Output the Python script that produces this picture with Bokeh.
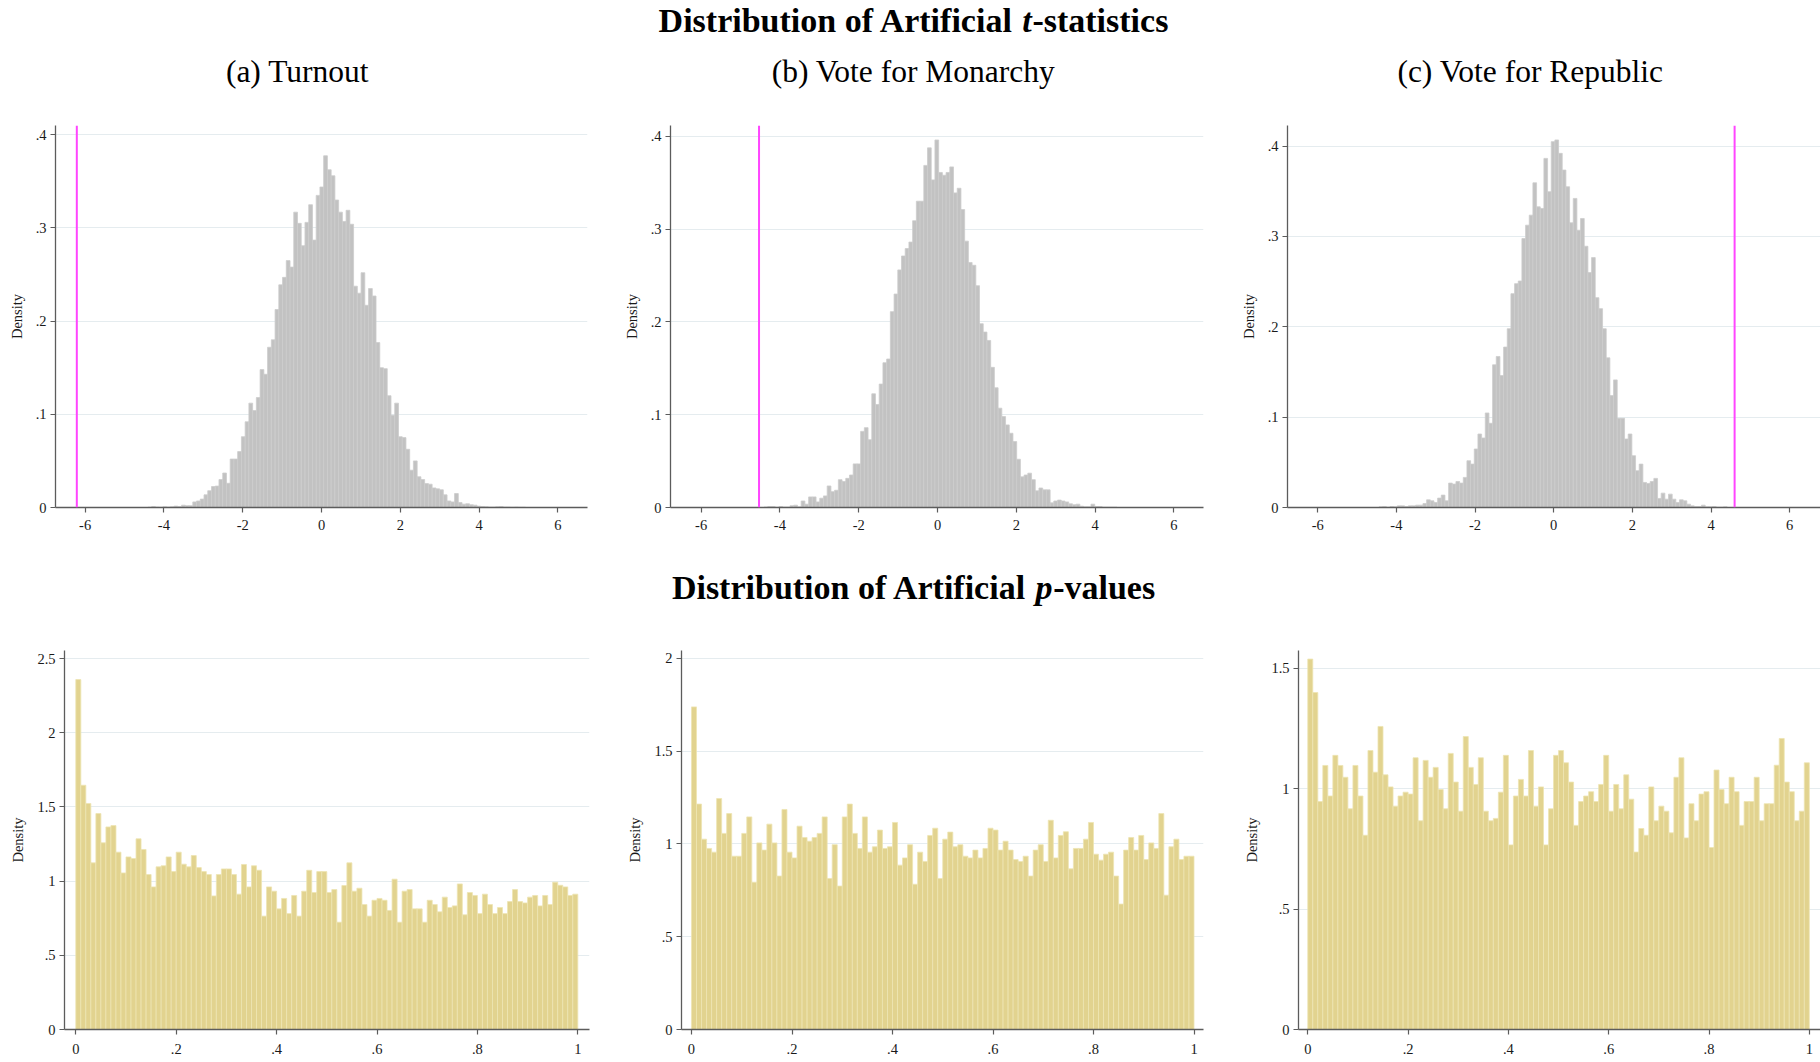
from bokeh.plotting import figure
from bokeh.models import Range1d, FixedTicker, CustomJSTickFormatter, Span, Label, ColumnDataSource
from bokeh.layouts import column, row
from bokeh.embed import file_html
from bokeh.resources import INLINE

FONT = "Liberation Serif"

# ---------------- data: artificial t-statistics (density per bin) ----------------
turnout_t_first_edge = -4.405
turnout_t_bin_width = 0.0949
turnout_t_density = [
    0.0004, 0.001, 0.0005, 0.0003, 0.0008, 0.0005, 0.0008, 0.0015, 0.001, 0.0025, 0.002, 0.002,
    0.006, 0.007, 0.009, 0.0136, 0.018, 0.0225, 0.023, 0.030, 0.037, 0.026,
    0.052, 0.052, 0.060, 0.076, 0.092, 0.112, 0.104, 0.118, 0.148, 0.143,
    0.172, 0.180, 0.2125, 0.239, 0.247, 0.265, 0.258, 0.317, 0.305, 0.281,
    0.306, 0.325, 0.287, 0.335, 0.344, 0.3775, 0.3625, 0.356, 0.330, 0.317,
    0.307, 0.319, 0.304, 0.2375, 0.230, 0.252, 0.217, 0.235, 0.227, 0.177,
    0.150, 0.149, 0.120, 0.099, 0.112, 0.076, 0.075, 0.0625, 0.040, 0.050,
    0.033, 0.030, 0.0257, 0.025, 0.021, 0.020, 0.019, 0.0136, 0.007, 0.006,
    0.015, 0.0054, 0.0036, 0.004, 0.003, 0.0025, 0.0014,
    0.001, 0.0008, 0.0005, 0.0005, 0.0008, 0.001, 0.0005, 0.0005, 0.0003, 0.0005, 0.0003, 0.0003,
]
turnout_t_actual = -6.21

monarchy_t_first_edge = -4.403
monarchy_t_bin_width = 0.0943
monarchy_t_density = [
    0.0005, 0.001, 0.001, 0.0003, 0.001, 0.0005, 0.0005, 0.002, 0.0025, 0.0007,
    0.007, 0.0036, 0.0114, 0.0114, 0.006, 0.010, 0.0125, 0.0232, 0.0171, 0.0186,
    0.030, 0.028, 0.0314, 0.035, 0.047, 0.047, 0.082, 0.086, 0.073, 0.1225,
    0.111, 0.133, 0.156, 0.160, 0.211, 0.230, 0.256, 0.271, 0.279, 0.286,
    0.309, 0.330, 0.330, 0.3686, 0.3875, 0.353, 0.396,
    0.361, 0.358, 0.361, 0.367, 0.339, 0.344, 0.321, 0.287, 0.264, 0.261,
    0.239, 0.198, 0.189, 0.180, 0.151, 0.129, 0.107, 0.098, 0.089, 0.080,
    0.071, 0.052, 0.033, 0.035, 0.037, 0.030, 0.018, 0.021, 0.019, 0.019,
    0.005, 0.007, 0.008, 0.007, 0.006, 0.004, 0.003, 0.0036,
    0.0014, 0.0007, 0.0007, 0.0036, 0.001, 0.001, 0.0004, 0.0004, 0.0004, 0.0004,
]
monarchy_t_actual = -4.53

republic_t_first_edge = -4.443
republic_t_bin_width = 0.0932
republic_t_density = [
    0.0007, 0.0011, 0.0004, 0.0011, 0.0007, 0.0018, 0.0018, 0.0011, 0.0018, 0.0018, 0.0026, 0.0026,
    0.0044, 0.0085, 0.0074, 0.0055, 0.0104, 0.0137, 0.0074, 0.027, 0.0259, 0.0288,
    0.027, 0.0333, 0.0518, 0.048, 0.0647, 0.0813, 0.0769, 0.1046, 0.0932, 0.1579,
    0.1671, 0.146, 0.1775, 0.1978, 0.2366, 0.2477, 0.2506, 0.2976, 0.3124, 0.3235,
    0.3593, 0.3327, 0.3309, 0.3863, 0.3494, 0.4048, 0.4067, 0.3919, 0.3734, 0.3549,
    0.315, 0.342, 0.3068, 0.3198, 0.2891, 0.2599, 0.2765, 0.2322, 0.22, 0.1978,
    0.1656, 0.1238, 0.1412, 0.0987, 0.0987, 0.0758, 0.0813, 0.0573, 0.0407, 0.048,
    0.0277, 0.0266, 0.0288, 0.0322, 0.01, 0.0159, 0.0092, 0.0148, 0.0092, 0.0055,
    0.0085, 0.0074, 0.0037, 0.0018,
    0.0011, 0.0011, 0.0026, 0.0007, 0.0007, 0.0011, 0.0004, 0.0004, 0.0007,
]
republic_t_actual = 4.60

# ---------------- data: artificial p-values (100 bins of width 0.01) ----------------
p_bin_width = 0.01
turnout_p_density = [
    2.358, 1.646, 1.523, 1.123, 1.455, 1.258, 1.365, 1.374, 1.195, 1.055,
    1.163, 1.152, 1.285, 1.213, 1.044, 0.961, 1.096, 1.103, 1.163, 1.064,
    1.195, 1.114, 1.096, 1.172, 1.091, 1.064, 1.044, 0.900, 1.044, 1.082,
    1.082, 1.044, 0.912, 1.112, 0.961, 1.103, 1.073, 0.764, 0.961, 0.932,
    0.813, 0.883, 0.781, 0.903, 0.764, 0.932, 1.073, 0.923, 1.064, 1.064,
    0.923, 0.943, 0.723, 0.970, 1.123, 0.932, 0.952, 0.842, 0.764, 0.871,
    0.883, 0.871, 0.802, 1.013, 0.723, 0.932, 0.943, 0.813, 0.813, 0.723,
    0.871, 0.842, 0.793, 0.892, 0.822, 0.833, 0.981, 0.773, 0.923, 0.903,
    0.781, 0.912, 0.842, 0.781, 0.822, 0.781, 0.862, 0.943, 0.862, 0.853,
    0.892, 0.903, 0.833, 0.903, 0.842, 0.993, 0.972, 0.961, 0.903, 0.912,
]
monarchy_p_density = [
    1.739, 1.215, 1.026, 0.976, 0.956, 1.245, 1.057, 1.164, 0.934, 0.934,
    1.057, 1.146, 0.794, 1.006, 0.967, 1.107, 1.006, 0.827, 1.186, 0.956,
    0.925, 1.096, 1.035, 1.015, 1.035, 1.057, 1.146, 0.814, 0.996, 0.773,
    1.146, 1.215, 1.057, 0.976, 1.146, 0.956, 0.985, 1.075, 0.976, 0.985,
    1.116, 0.886, 0.925, 0.996, 0.783, 0.956, 0.906, 1.046, 1.085, 0.814,
    1.026, 1.064, 0.985, 0.996, 0.934, 0.925, 0.967, 0.925, 0.976, 1.085,
    1.075, 0.967, 1.015, 0.967, 0.916, 0.906, 0.934, 0.827, 0.967, 0.996,
    0.906, 1.128, 0.925, 1.046, 1.066, 0.866, 0.976, 0.976, 1.026, 1.116,
    0.945, 0.913, 0.945, 0.956, 0.827, 0.676, 0.967, 1.035, 0.967, 1.046,
    0.916, 1.006, 0.976, 1.164, 0.724, 0.985, 1.026, 0.916, 0.934, 0.934,
]
republic_p_density = [
    1.539, 1.400, 0.947, 1.097, 0.970, 1.139, 1.097, 1.048, 0.917, 1.097,
    0.970, 0.807, 1.159, 1.069, 1.259, 1.058, 1.008, 0.928, 0.970, 0.986,
    0.978, 1.129, 0.867, 1.118, 1.048, 1.089, 0.997, 0.917, 1.147, 1.028,
    0.907, 1.217, 1.089, 1.018, 1.129, 0.907, 0.867, 0.877, 0.986, 1.139,
    0.767, 0.970, 1.039, 0.970, 1.159, 0.928, 1.008, 0.767, 0.917, 1.139,
    1.159, 1.108, 1.028, 0.848, 0.947, 0.970, 0.988, 0.947, 1.018, 1.139,
    0.907, 1.018, 0.917, 1.058, 0.957, 0.737, 0.835, 0.807, 1.008, 0.867,
    0.928, 0.907, 0.817, 1.048, 1.129, 0.796, 0.938, 0.867, 0.978, 0.988,
    0.756, 1.078, 0.997, 0.938, 1.048, 0.988, 0.848, 0.947, 0.947, 1.048,
    0.867, 0.938, 0.938, 1.098, 1.209, 1.028, 0.988, 0.867, 0.907, 1.108,
]

# ---------------- text ----------------
title_t = ("Distribution of Artificial", "t", "-statistics")
title_p = ("Distribution of Artificial", "p", "-values")
subtitles = ["(a) Turnout", "(b) Vote for Monarchy", "(c) Vote for Republic"]
y_label = "Density"
t_xticks = [-6, -4, -2, 0, 2, 4, 6]
t_yticks = [0, 0.1, 0.2, 0.3, 0.4]
p_xticks = [0, 0.2, 0.4, 0.6, 0.8, 1]
p_yticks = [[0, 0.5, 1, 1.5, 2, 2.5], [0, 0.5, 1, 1.5, 2], [0, 0.5, 1, 1.5]]

# ---------------- styling ----------------
GRAY_FILL = "#c2c2c2"
GRAY_LINE = "#cdcdcd"
GOLD_FILL = "#e2d38f"
GOLD_LINE = "#eee4b3"
MAGENTA = "#ff45ff"
GRID = "#e5ecef"
AXIS = "#5c5c5c"
TXT = "#1a1a1a"

fmt_code = """
let v = Math.round(tick * 100) / 100;
let s = String(v);
if (s.startsWith("0.")) s = s.slice(1);
if (s.startsWith("-0.")) s = "-" + s.slice(2);
return s;
"""


def hist_fig(width, height, borders, xr, yr, xticks, yticks, xstand):
    l, r, t, b = borders
    p = figure(width=width, height=height, x_range=Range1d(*xr), y_range=Range1d(*yr),
               output_backend="svg", toolbar_location=None,
               min_border_left=l, min_border_right=r, min_border_top=t, min_border_bottom=b)
    p.outline_line_color = None
    p.background_fill_color = "white"
    p.border_fill_color = "white"
    p.xgrid.visible = False
    p.ygrid.grid_line_color = GRID
    p.ygrid.grid_line_width = 1
    p.xaxis.ticker = FixedTicker(ticks=xticks, minor_ticks=[])
    p.yaxis.ticker = FixedTicker(ticks=yticks, minor_ticks=[])
    for ax in (p.xaxis[0], p.yaxis[0]):
        ax.formatter = CustomJSTickFormatter(code=fmt_code)
        ax.axis_line_color = AXIS
        ax.axis_line_width = 1.3
        ax.major_tick_line_color = AXIS
        ax.major_tick_line_width = 1.2
        ax.major_tick_out = 5
        ax.major_tick_in = 0
        ax.minor_tick_out = 0
        ax.minor_tick_in = 0
        ax.major_label_text_font = FONT
        ax.major_label_text_font_size = "14.5px"
        ax.major_label_text_color = TXT
    p.xaxis.major_label_standoff = xstand
    p.yaxis.major_label_standoff = 4
    p.yaxis.major_label_orientation = "horizontal"
    p.yaxis.axis_label = y_label
    p.yaxis.axis_label_text_font = FONT
    p.yaxis.axis_label_text_font_size = "14.5px"
    p.yaxis.axis_label_text_font_style = "normal"
    p.yaxis.axis_label_text_color = TXT
    p.yaxis.axis_label_standoff = 8
    return p


def add_bars(p, first_edge, width, dens, fill, line):
    lefts = [first_edge + i * width for i in range(len(dens))]
    rights = [x + width for x in lefts]
    src = ColumnDataSource(dict(left=lefts, right=rights, top=dens))
    p.quad(left="left", right="right", top="top", bottom=0, source=src,
           fill_color=fill, line_color=line, line_width=0.8)


def text_fig(width, height):
    p = figure(width=width, height=height, x_range=Range1d(0, width), y_range=Range1d(height, 0),
               output_backend="svg", toolbar_location=None, x_axis_type=None, y_axis_type=None,
               min_border=0)
    p.grid.visible = False
    p.outline_line_color = None
    return p


def add_mixed_title(p, parts, center_x, y, size, em_widths):
    # approximate em widths of the three parts for centering
    w1, ws, w2, w3 = [e * size for e in em_widths]
    total = w1 + ws + w2 + w3
    x0 = center_x - total / 2
    common = dict(y=y, text_font=FONT, text_font_size=f"{size}px", text_baseline="middle",
                  text_color="black")
    p.add_layout(Label(x=x0 + w1, text=parts[0], text_align="right", text_font_style="bold", **common))
    p.add_layout(Label(x=x0 + w1 + ws, text=parts[1], text_align="left",
                       text_font_style="bold italic", **common))
    p.add_layout(Label(x=x0 + w1 + ws + w2, text=parts[2], text_align="left",
                       text_font_style="bold", **common))


# ---------------- layout ----------------
W = [620, 617, 583]

# header with main title and panel subtitles
head = text_fig(1820, 100)
add_mixed_title(head, title_t, 913, 20, 34, (10.444, 0.25, 0.30, 4.0))
for sx, s in zip([297, 913, 1530], subtitles):
    head.add_layout(Label(x=sx, y=71, text=s, text_align="center", text_baseline="middle",
                          text_font=FONT, text_font_size="31.5px", text_color="black"))

# top row: t-statistics
t_specs = [
    (W[0], (55, 33, 25, 33), (-6.751, 6.751), (0, 0.410), turnout_t_first_edge, turnout_t_bin_width,
     turnout_t_density, turnout_t_actual),
    (W[1], (50, 34, 25, 33), (-6.777, 6.751), (0, 0.4116), monarchy_t_first_edge, monarchy_t_bin_width,
     monarchy_t_density, monarchy_t_actual),
    (W[2], (49, 0, 25, 33), (-6.769, 6.784), (0, 0.4227), republic_t_first_edge, republic_t_bin_width,
     republic_t_density, republic_t_actual),
]
top_figs = []
for w, bd, xr, yr, fe, bw, dens, actual in t_specs:
    p = hist_fig(w, 440, bd, xr, yr, t_xticks, t_yticks, 7)
    add_bars(p, fe, bw, dens, GRAY_FILL, GRAY_LINE)
    p.add_layout(Span(location=actual, dimension="height", line_color=MAGENTA, line_width=2))
    top_figs.append(p)

# middle title
mid = text_fig(1820, 85)
add_mixed_title(mid, title_p, 913, 47, 34, (10.444, 0.25, 0.52, 3.0))

# bottom row: p-values
p_specs = [
    (W[0], (64, 31, 25, 31), (-0.0225, 1.0233), (0, 2.554), turnout_p_density, p_yticks[0]),
    (W[1], (61, 34, 25, 31), (-0.0199, 1.0189), (0, 2.043), monarchy_p_density, p_yticks[1]),
    (W[2], (61, 0, 25, 31), (-0.0185, 1.0223), (0, 1.5746), republic_p_density, p_yticks[2]),
]
bot_figs = []
for w, bd, xr, yr, dens, yt in p_specs:
    p = hist_fig(w, 435, bd, xr, yr, p_xticks, yt, 9)
    add_bars(p, 0.0, p_bin_width, dens, GOLD_FILL, GOLD_LINE)
    bot_figs.append(p)

layout = column(head, row(*top_figs, spacing=0), mid, row(*bot_figs, spacing=0), spacing=0)

open("out.html", "w").write(file_html(layout, INLINE))
